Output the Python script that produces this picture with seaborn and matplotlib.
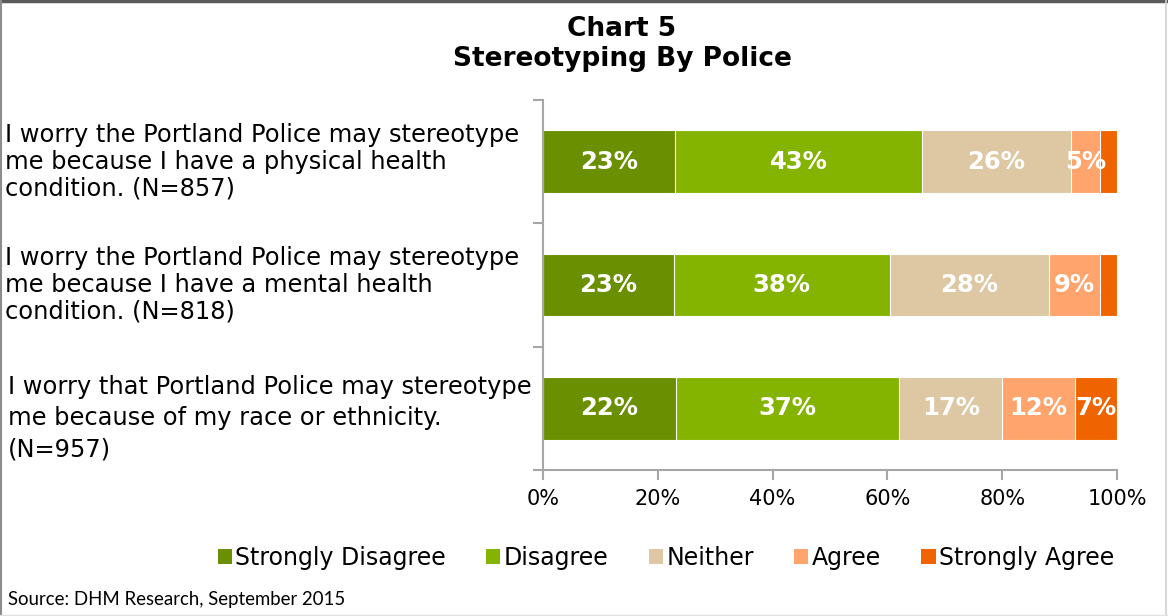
import numpy as np
import pandas as pd
import matplotlib
matplotlib.use("Agg")
import matplotlib.pyplot as plt
from matplotlib.patches import Patch
from matplotlib.lines import Line2D
import matplotlib.transforms as mtransforms
import seaborn as sns

# Survey statements (one bar each)
statements = [
    "I worry the Portland Police may stereotype\nme because I have a physical health\ncondition. (N=857)",
    "I worry the Portland Police may stereotype\nme because I have a mental health\ncondition. (N=818)",
    "I worry that Portland Police may stereotype\nme because of my race or ethnicity.\n(N=957)",
]

# Response shares in percent
strongly_disagree = [23, 23, 22]
disagree = [43, 38, 37]
neither = [26, 28, 17]
agree = [5, 9, 12]
strongly_agree = [3, 3, 7]

responses = ["Strongly Disagree", "Disagree", "Neither", "Agree", "Strongly Agree"]
colors = ["#6A8F00", "#84B400", "#DEC7A3", "#FFA46C", "#F06400"]
x_ticks = [0, 20, 40, 60, 80, 100]
x_tick_labels = ["0%", "20%", "40%", "60%", "80%", "100%"]

values = np.array([strongly_disagree, disagree, neither, agree, strongly_agree], dtype=float)
# 100% stacked: each row scaled to its own total
shares = values / values.sum(axis=0) * 100
cum = np.cumsum(shares, axis=0)

sns.set_style("white")
plt.rcParams["font.family"] = ["DejaVu Sans"]
plt.rcParams["text.color"] = "black"
plt.rcParams["xtick.labelcolor"] = "black"

fig = plt.figure(figsize=(11.68, 6.16), dpi=100)
ax = fig.add_axes([543 / 1168, 1 - 470 / 616, (1117 - 543) / 1168, (470 - 100) / 616])

# Draw cumulative layers from the widest down so each segment shows on top
for k in range(len(responses) - 1, -1, -1):
    df = pd.DataFrame({"statement": statements, "cum": cum[k]})
    sns.barplot(data=df, x="cum", y="statement", orient="h", color=colors[k],
                width=0.51, edgecolor="white", linewidth=0.8, saturation=1,
                ax=ax, zorder=2)

# Value labels inside segments
for k in range(len(responses)):
    for i in range(len(statements)):
        if values[k, i] >= 5:
            center = cum[k, i] - shares[k, i] / 2
            ax.text(center, i, f"{int(values[k, i])}%", ha="center", va="center",
                    color="white", fontsize=17.5, fontweight="bold", zorder=5)

ax.set_xlim(0, 100)
ax.set_ylim(2.5, -0.5)
ax.set_xticks(x_ticks)
ax.set_xticklabels(x_tick_labels, fontsize=15)
ax.set_yticks([-0.5, 0.5, 1.5, 2.5])
ax.set_yticklabels([])
ax.set_xlabel("")
ax.set_ylabel("")
axis_gray = "#A6A6A6"
for s in ["top", "right"]:
    ax.spines[s].set_visible(False)
for s in ["left", "bottom"]:
    ax.spines[s].set_color(axis_gray)
    ax.spines[s].set_linewidth(1.5)
ax.tick_params(axis="x", direction="out", length=7, width=1.5, color=axis_gray,
               pad=7, labelcolor="black", bottom=True)
ax.tick_params(axis="y", direction="out", length=7, width=1.5, color=axis_gray, left=True)

# Statement labels, left-aligned at the figure edge
blend = mtransforms.blended_transform_factory(fig.transFigure, ax.transData)
label_x = [5 / 1168, 5 / 1168, 8 / 1168]
label_dy = [0.0, 0.0, 0.08]
label_ls = [1.15, 1.15, 1.38]
for i, text in enumerate(statements):
    ax.text(label_x[i], i + label_dy[i], text, transform=blend, ha="left", va="center",
            fontsize=17.4, linespacing=label_ls[i], color="black")

# Title
fig.text(622 / 1168, 1 - 16 / 616, "Chart 5\nStereotyping By Police", ha="center", va="top",
         fontsize=19, fontweight="bold", linespacing=1.2, color="black")

# Legend
handles = [Patch(facecolor=c, edgecolor="none") for c in colors]
fig.legend(handles, responses, loc="center", bbox_to_anchor=(666 / 1168, 1 - 558 / 616),
           ncol=5, frameon=False, fontsize=17, handlelength=0.6, handleheight=0.6,
           handletextpad=0.15, columnspacing=1.7)

# Source note
fig.text(8 / 1168, 1 - 600 / 616, "Source: DHM Research, September 2015", ha="left",
         va="center", fontsize=13.4, family=["Lato", "DejaVu Sans"], color="black")

# Frame around the figure
for (x0, y0, x1, y1, c, lw) in [
    (0, 0.9985, 1, 0.9985, "#5A5A5A", 2.5),
    (0.0008, 0, 0.0008, 1, "#8C8C8C", 1.5),
    (0.9985, 0, 0.9985, 1, "#D0D0D0", 1.2),
    (0, 0.0015, 1, 0.0015, "#E0E0E0", 1.0),
]:
    fig.add_artist(Line2D([x0, x1], [y0, y1], transform=fig.transFigure, color=c, lw=lw))

fig.savefig("out.png", dpi=100)
